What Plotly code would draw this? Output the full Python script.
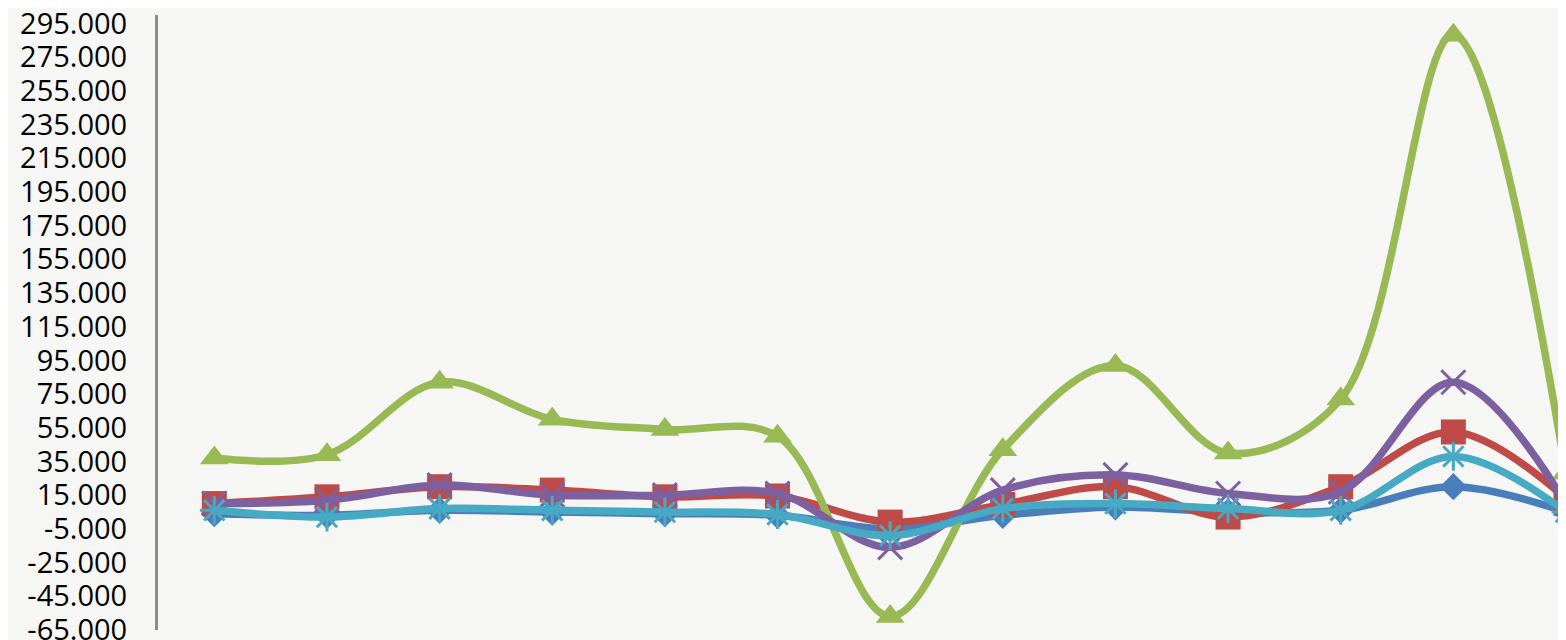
import plotly.graph_objects as go

# category positions (no labels shown on the x axis)
categories = list(range(13))

blue = [4, 3, 6, 5, 4, 3, -5, 3, 8, 5, 6, 20, 5]
red = [10, 14, 20, 18, 14, 14.5, -1, 9.5, 20, 2, 20, 52.5, 13]
green = [37, 39, 82, 60, 54, 50, -57, 42, 92, 40, 72, 288, 28]
purple = [10, 12, 21, 15, 15, 16, -16, 18, 27, 16, 17, 82, 10]
cyan = [6, 2, 7, 6, 5, 3.5, -9, 7, 10, 7, 6, 38, 5]

y_ticks = list(range(-65, 296, 20))

series = [
    ("Series 1", blue, "#4a7ebb", dict(symbol="diamond", size=21)),
    ("Series 2", red, "#be4b48", dict(symbol="square", size=25)),
    ("Series 3", green, "#98b954", dict(symbol="triangle-up", size=25)),
    ("Series 4", purple, "#7d60a0", dict(symbol="x-thin", size=24, line=dict(width=3, color="#7d60a0"))),
    ("Series 5", cyan, "#46aac5", dict(symbol="asterisk", size=24, line=dict(width=3, color="#46aac5"))),
]

fig = go.Figure()
for name, vals, color, marker in series:
    fig.add_trace(go.Scatter(
        x=categories, y=vals, name=name, mode="lines+markers",
        line=dict(color=color, width=7.5, shape="spline", smoothing=1.0),
        marker=dict(color=color, **marker),
        cliponaxis=False,
    ))

# the page body adds an 8px offset, so the figure is sized to fit the window
fig.update_layout(
    width=1558, height=632,
    margin=dict(l=150, r=0, t=7, b=10),
    paper_bgcolor="#f6f6f5",
    plot_bgcolor="#f6f6f5",
    showlegend=False,
    font=dict(family="Open Sans", color="#000000"),
)
fig.update_xaxes(range=[-0.5, 12], showgrid=False, zeroline=False,
                 showticklabels=False, showline=False, automargin=False)
fig.update_yaxes(range=[-65.05, 300], tickvals=y_ticks,
                 ticktext=[f"{v:.3f}" for v in y_ticks],
                 tickfont=dict(size=29, family="Open Sans", color="#000000"),
                 ticklabeloverflow="allow", automargin=False,
                 showgrid=False, zeroline=False,
                 showline=True, linecolor="#8c8c8c", linewidth=3,
                 ticks="outside", ticklen=22, tickcolor="rgba(0,0,0,0)")

fig.write_html("out.html")
